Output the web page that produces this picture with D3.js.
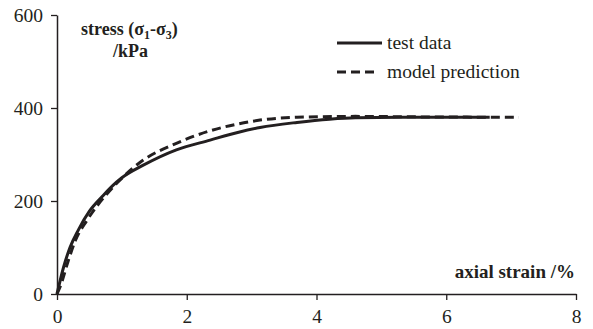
<!DOCTYPE html>
<html>
<head>
<meta charset="utf-8">
<script src="https://cdn.jsdelivr.net/npm/d3@7"></script>
<style>
  body { margin: 0; background: #fff; }
  svg { display: block; font-family: "Liberation Serif", "Times New Roman", serif; }
</style>
</head>
<body>
<svg id="chart" width="593" height="329"></svg>
<script>
// axial strain (%) and deviator stress (kPa)
const testStrain = [0, 0.1, 0.2, 0.33, 0.5, 0.7, 0.85, 1.0, 1.33, 1.84, 2.36, 2.8, 3.13, 3.7, 4.2, 4.6, 5.5, 6.67];
const testStress = [0, 57, 100, 138, 178, 210, 232, 250, 277, 310, 331, 348, 358, 369, 376, 379, 380, 380];

const modelStrain = [0, 0.05, 0.17, 0.28, 0.46, 0.61, 0.92, 1.33, 1.84, 2.36, 2.8, 3.13, 3.7, 4.6, 5.5, 7.12];
const modelStress = [0, 16, 70, 114, 158, 188, 238, 288, 324, 351, 366, 374, 380, 382, 381, 380];

const xTicks = [0, 2, 4, 6, 8];
const yTicks = [0, 200, 400, 600];

const ink = '#231f20';
const svg = d3.select('#chart');

const x = d3.scaleLinear().domain([0, 8]).range([57, 576]);
const y = d3.scaleLinear().domain([0, 600]).range([294, 15]);

const xAxis = svg.append('g')
  .attr('transform', `translate(0,${y(0)})`)
  .call(d3.axisBottom(x).tickValues(xTicks).tickSize(6).tickSizeOuter(0).tickPadding(9));

const yAxis = svg.append('g')
  .attr('transform', `translate(${x(0)},0)`)
  .call(d3.axisLeft(y).tickValues(yTicks).tickSize(6).tickSizeOuter(0).tickPadding(8));

[xAxis, yAxis].forEach(g => {
  g.select('.domain').attr('stroke', ink).attr('stroke-width', 1.5);
  g.selectAll('.tick line').attr('stroke', ink).attr('stroke-width', 1.3);
  g.selectAll('.tick text')
    .attr('fill', ink)
    .style('font-family', '"Liberation Serif", serif')
    .style('font-size', '19.5px');
});

const line = d3.line()
  .x(d => x(d[0]))
  .y(d => y(d[1]))
  .curve(d3.curveMonotoneX);

svg.append('path')
  .datum(d3.zip(testStrain, testStress))
  .attr('d', line)
  .attr('fill', 'none')
  .attr('stroke', ink)
  .attr('stroke-width', 3);

svg.append('path')
  .datum(d3.zip(modelStrain, modelStress))
  .attr('d', line)
  .attr('fill', 'none')
  .attr('stroke', ink)
  .attr('stroke-width', 3)
  .attr('stroke-dasharray', '9,5');

// axis titles
const yTitle = svg.append('text')
  .attr('x', 81).attr('y', 35)
  .attr('fill', ink)
  .style('font-size', '18px').style('font-weight', 'bold');
yTitle.append('tspan').text('stress (σ');
yTitle.append('tspan').attr('dy', 4).style('font-size', '12px').text('1');
yTitle.append('tspan').attr('dy', -4).text('-σ');
yTitle.append('tspan').attr('dy', 4).style('font-size', '12px').text('3');
yTitle.append('tspan').attr('dy', -4).text(')');

svg.append('text')
  .attr('x', 113).attr('y', 57)
  .attr('fill', ink)
  .style('font-size', '18px').style('font-weight', 'bold')
  .text('/kPa');

svg.append('text')
  .attr('x', 575).attr('y', 278)
  .attr('text-anchor', 'end')
  .attr('fill', ink)
  .style('font-size', '19px').style('font-weight', 'bold')
  .text('axial strain /%');

// legend
const legend = [
  { label: 'test data', dash: null, y: 43, x2: 382 },
  { label: 'model prediction', dash: '9,5', y: 72, x2: 378 }
];
legend.forEach(l => {
  svg.append('line')
    .attr('x1', 337).attr('x2', l.x2)
    .attr('y1', l.y).attr('y2', l.y)
    .attr('stroke', ink).attr('stroke-width', 3)
    .attr('stroke-dasharray', l.dash);
  svg.append('text')
    .attr('x', 387).attr('y', l.y + 6)
    .attr('fill', ink)
    .style('font-size', '19.5px')
    .text(l.label);
});
</script>
</body>
</html>
